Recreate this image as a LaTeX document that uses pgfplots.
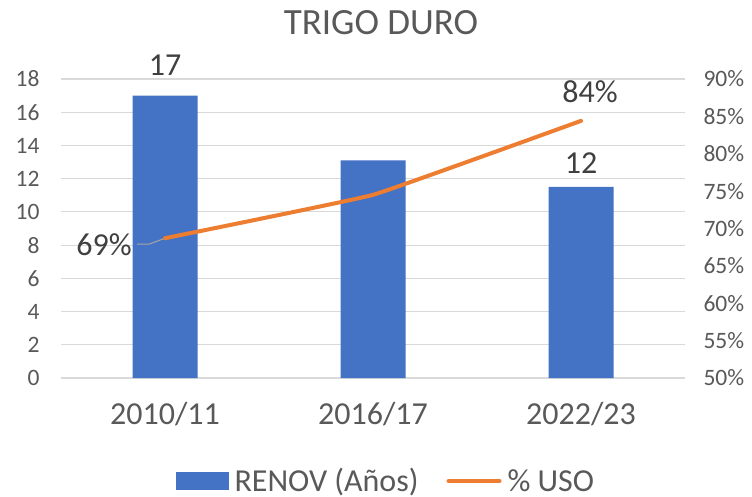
\documentclass[border=0pt]{standalone}
\usepackage{fontspec}
\setmainfont{Carlito}
\usepackage{pgfplots}
\pgfplotsset{compat=1.18}
\definecolor{barblue}{HTML}{4472C4}
\definecolor{lineorange}{HTML}{ED7D31}
\definecolor{txtgray}{HTML}{595959}
\definecolor{lblgray}{HTML}{404040}
\definecolor{gridgray}{HTML}{D9D9D9}
\newcommand{\bigf}{\fontsize{32bp}{38bp}\selectfont}
\newcommand{\titf}{\fontsize{37bp}{44bp}\selectfont}
\newcommand{\smallf}{\fontsize{23.5bp}{28bp}\selectfont}
\begin{document}
\begin{tikzpicture}
\useasboundingbox (0,0) rectangle (752bp,497bp);
\node[font=\titf, text=txtgray] at (381bp,474bp) {TRIGO DURO};
\begin{axis}[
  at={(61bp,119bp)}, anchor=south west,
  scale only axis, width=624bp, height=299bp,
  xmin=-0.5, xmax=2.5, ymin=0, ymax=18,
  ytick={0,2,...,18},
  xtick={0,1,2}, xticklabels={2010/11,2016/17,2022/23},
  axis line style={draw=none},
  major tick style={draw=none},
  ymajorgrids, grid style={gridgray, line width=1.2bp},
  /pgf/number format/assume math mode=true,
  yticklabel style={font=\smallf, text=txtgray, xshift=-18bp},
  xticklabel style={font=\bigf, text=txtgray, yshift=-21bp},
  clip=false,
  legend columns=2,
  legend style={at={(0.521,-0.3445)}, anchor=center, draw=none, fill=none,
    font=\bigf, text=txtgray, inner sep=0pt, outer sep=0pt,
    /tikz/every odd column/.append style={column sep=4bp},
    /tikz/every even column/.append style={column sep=26bp}},
]
\addplot[ybar, bar width=65bp, fill=barblue, draw=none, forget plot]
  coordinates {(0,17) (1,13.1) (2,11.5)};
\addplot[mark=none, draw=none, forget plot, nodes near coords, point meta=explicit symbolic,
  every node near coord/.append style={font=\bigf, text=lblgray, anchor=south, inner sep=0pt, yshift=20bp}]
  coordinates {(0,17)[17]};
\addplot[mark=none, draw=none, forget plot, nodes near coords, point meta=explicit symbolic,
  every node near coord/.append style={font=\bigf, text=lblgray, anchor=south, inner sep=0pt, yshift=13bp}]
  coordinates {(2,11.5)[12]};
\addlegendimage{legend image code/.code={\fill[barblue] (0bp,-8.5bp) rectangle (52bp,8.5bp);}}
\addlegendentry{RENOV (Años)}
\addlegendimage{legend image code/.code={\draw[lineorange, line width=4bp, line cap=round] (2bp,0bp) -- (53bp,0bp);}}
\addlegendentry{\% USO}
\end{axis}
\begin{axis}[
  at={(61bp,119bp)}, anchor=south west,
  scale only axis, width=624bp, height=299bp,
  xmin=-0.5, xmax=2.5, ymin=50, ymax=90,
  ytick={50,55,...,90},
  axis x line=none, axis y line*=right,
  axis line style={draw=none},
  major tick style={draw=none},
  /pgf/number format/assume math mode=true,
  yticklabel={\pgfmathprintnumber{\tick}\%},
  yticklabel style={font=\smallf, text=txtgray, xshift=15bp},
  clip=false,
]
\draw[gray!70, line width=1bp] (axis cs:0,68.7) -- ++(-16bp,-6bp) -- ++(-12bp,0bp);
\addplot[lineorange, line width=4bp, smooth, tension=0.15, line cap=round, mark=none]
  coordinates {(0,68.7) (1,74.5) (2,84.4)};
\addplot[mark=none, draw=none, nodes near coords, point meta=explicit symbolic,
  every node near coord/.append style={font=\bigf, text=lblgray, anchor=east, inner sep=0pt, xshift=-33bp, yshift=-7bp}]
  coordinates {(0,68.7)[69\%]};
\addplot[mark=none, draw=none, nodes near coords, point meta=explicit symbolic,
  every node near coord/.append style={font=\bigf, text=lblgray, anchor=south, inner sep=0pt, xshift=9bp, yshift=18bp}]
  coordinates {(2,84.4)[84\%]};
\end{axis}
\end{tikzpicture}
\end{document}
